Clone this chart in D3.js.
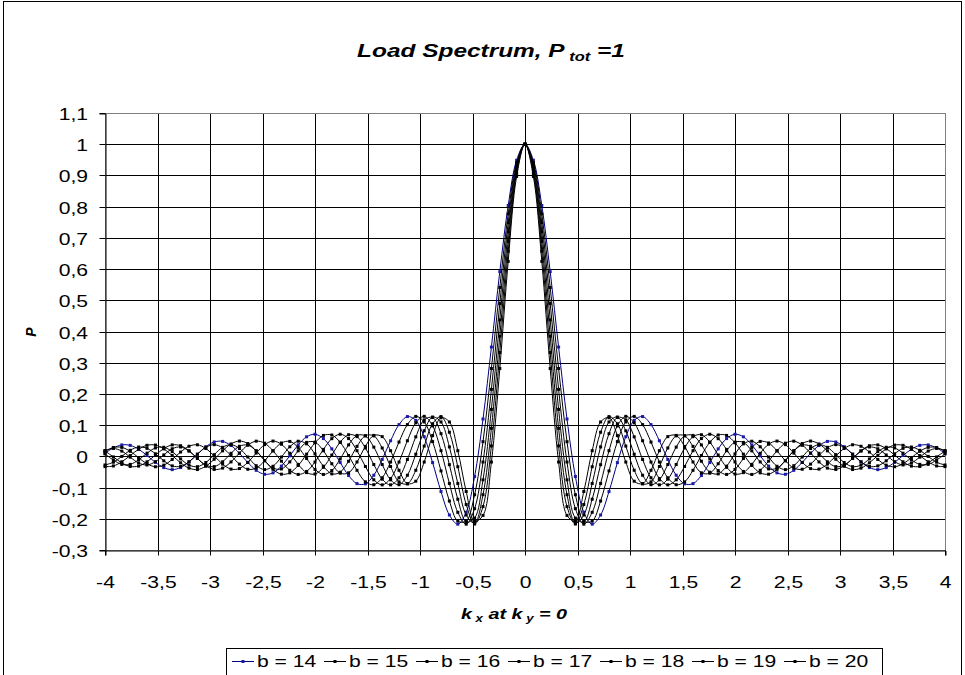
<!DOCTYPE html>
<html>
<head>
<meta charset="utf-8">
<script src="https://cdn.jsdelivr.net/npm/d3@7"></script>
<style>
  html, body { margin: 0; padding: 0; background: #fff; }
  svg { display: block; font-family: "Liberation Sans", Arial, sans-serif; }
</style>
</head>
<body>
<svg id="chart" width="965" height="675"></svg>
<script>
// Wavenumber samples k_x (k_y = 0)
const kValues = [
  -4, -3.92, -3.84, -3.76, -3.68, -3.6, -3.52, -3.44, -3.36, -3.28,
  -3.2, -3.12, -3.04, -2.96, -2.88, -2.8, -2.72, -2.64, -2.56, -2.48,
  -2.4, -2.32, -2.24, -2.16, -2.08, -2, -1.92, -1.84, -1.76, -1.68,
  -1.6, -1.52, -1.44, -1.36, -1.28, -1.2, -1.12, -1.04, -0.96, -0.88,
  -0.8, -0.72, -0.64, -0.56, -0.48, -0.4, -0.32, -0.24, -0.16, -0.08,
  0,
  0.08, 0.16, 0.24, 0.32, 0.4, 0.48, 0.56, 0.64, 0.72, 0.8,
  0.88, 0.96, 1.04, 1.12, 1.2, 1.28, 1.36, 1.44, 1.52, 1.6,
  1.68, 1.76, 1.84, 1.92, 2, 2.08, 2.16, 2.24, 2.32, 2.4,
  2.48, 2.56, 2.64, 2.72, 2.8, 2.88, 2.96, 3.04, 3.12, 3.2,
  3.28, 3.36, 3.44, 3.52, 3.6, 3.68, 3.76, 3.84, 3.92, 4
];

// Load spectrum P for each width b
const p14 = [
  0.0097, 0.027, 0.0366, 0.0352, 0.0228, 0.0027, -0.0192, -0.0361, -0.0425, -0.0359,
  -0.0178, 0.0069, 0.0307, 0.0461, 0.0479, 0.0348, 0.0099, -0.0196, -0.0447, -0.0574,
  -0.0528, -0.0312, 0.0018, 0.0367, 0.0626, 0.0708, 0.057, 0.024, -0.0198, -0.0614,
  -0.0874, -0.0881, -0.0605, -0.01, 0.05, 0.1017, 0.1275, 0.1154, 0.063, -0.02,
  -0.1127, -0.1879, -0.2172, -0.1791, -0.0645, 0.1196, 0.3501, 0.5917, 0.8037, 0.9486,
  1,
  0.9486, 0.8037, 0.5917, 0.3501, 0.1196, -0.0645, -0.1791, -0.2172, -0.1879, -0.1127,
  -0.02, 0.063, 0.1154, 0.1275, 0.1017, 0.05, -0.01, -0.0605, -0.0881, -0.0874,
  -0.0614, -0.0198, 0.024, 0.057, 0.0708, 0.0626, 0.0367, 0.0018, -0.0312, -0.0528,
  -0.0574, -0.0447, -0.0196, 0.0099, 0.0348, 0.0479, 0.0461, 0.0307, 0.0069, -0.0178,
  -0.0359, -0.0425, -0.0361, -0.0192, 0.0027, 0.0228, 0.0352, 0.0366, 0.027, 0.0097
];
const p15 = [
  -0.0329, -0.0307, -0.0174, 0.0026, 0.0226, 0.0354, 0.0362, 0.024, 0.0027, -0.0206,
  -0.0377, -0.0422, -0.0317, -0.0093, 0.0177, 0.0398, 0.049, 0.0411, 0.0179, -0.0133,
  -0.0417, -0.0571, -0.0528, -0.0292, 0.0069, 0.0434, 0.0671, 0.0684, 0.0449, 0.0027,
  -0.0447, -0.0817, -0.0908, -0.0686, -0.0182, 0.0458, 0.1017, 0.128, 0.1102, 0.0472,
  -0.0466, -0.1431, -0.2075, -0.2075, -0.1229, 0.047, 0.2814, 0.541, 0.7767, 0.9411,
  1,
  0.9411, 0.7767, 0.541, 0.2814, 0.047, -0.1229, -0.2075, -0.2075, -0.1431, -0.0466,
  0.0472, 0.1102, 0.128, 0.1017, 0.0458, -0.0182, -0.0686, -0.0908, -0.0817, -0.0447,
  0.0027, 0.0449, 0.0684, 0.0671, 0.0434, 0.0069, -0.0292, -0.0528, -0.0571, -0.0417,
  -0.0133, 0.0179, 0.0411, 0.049, 0.0398, 0.0177, -0.0093, -0.0317, -0.0422, -0.0377,
  -0.0206, 0.0027, 0.024, 0.0362, 0.0354, 0.0226, 0.0026, -0.0174, -0.0307, -0.0329
];
const p16 = [
  0.0172, -0.0018, -0.0209, -0.0323, -0.0312, -0.0174, 0.0041, 0.0249, 0.0366, 0.0341,
  0.0176, -0.0069, -0.0299, -0.0419, -0.0376, -0.0178, 0.0105, 0.0362, 0.0487, 0.0422,
  0.0179, -0.0154, -0.0447, -0.0579, -0.0483, -0.018, 0.0222, 0.0567, 0.0709, 0.057,
  0.0181, -0.0325, -0.0751, -0.0913, -0.0711, -0.0182, 0.05, 0.1074, 0.1282, 0.0975,
  0.0182, -0.0868, -0.1793, -0.2172, -0.1674, -0.0182, 0.2146, 0.4894, 0.7485, 0.9331,
  1,
  0.9331, 0.7485, 0.4894, 0.2146, -0.0182, -0.1674, -0.2172, -0.1793, -0.0868, 0.0182,
  0.0975, 0.1282, 0.1074, 0.05, -0.0182, -0.0711, -0.0913, -0.0751, -0.0325, 0.0181,
  0.057, 0.0709, 0.0567, 0.0222, -0.018, -0.0483, -0.0579, -0.0447, -0.0154, 0.0179,
  0.0422, 0.0487, 0.0362, 0.0105, -0.0178, -0.0376, -0.0419, -0.0299, -0.0069, 0.0176,
  0.0341, 0.0366, 0.0249, 0.0041, -0.0174, -0.0312, -0.0323, -0.0209, -0.0018, 0.0172
];
const p17 = [
  0.0156, 0.0284, 0.0288, 0.0162, -0.0043, -0.0238, -0.0333, -0.0281, -0.0099, 0.0138,
  0.0323, 0.0371, 0.0252, 0.0011, -0.0248, -0.0408, -0.0391, -0.0193, 0.0105, 0.0375,
  0.049, 0.0388, 0.0099, -0.0256, -0.0521, -0.0566, -0.0352, 0.0043, 0.0455, 0.0693,
  0.0632, 0.0268, -0.0262, -0.0731, -0.0913, -0.0686, -0.01, 0.0625, 0.1169, 0.1245,
  0.0727, -0.0266, -0.1373, -0.2099, -0.1977, -0.0752, 0.1505, 0.4372, 0.719, 0.9247,
  1,
  0.9247, 0.719, 0.4372, 0.1505, -0.0752, -0.1977, -0.2099, -0.1373, -0.0266, 0.0727,
  0.1245, 0.1169, 0.0625, -0.01, -0.0686, -0.0913, -0.0731, -0.0262, 0.0268, 0.0632,
  0.0693, 0.0455, 0.0043, -0.0352, -0.0566, -0.0521, -0.0256, 0.0099, 0.0388, 0.049,
  0.0375, 0.0105, -0.0193, -0.0391, -0.0408, -0.0248, 0.0011, 0.0252, 0.0371, 0.0323,
  0.0138, -0.0099, -0.0281, -0.0333, -0.0238, -0.0043, 0.0162, 0.0288, 0.0284, 0.0156
];
const p18 = [
  -0.0276, -0.0187, -0.0001, 0.0194, 0.0299, 0.0257, 0.0082, -0.0142, -0.0305, -0.0321,
  -0.0174, 0.0069, 0.029, 0.0375, 0.0273, 0.0027, -0.0248, -0.0413, -0.0376, -0.0145,
  0.0177, 0.0429, 0.0479, 0.0286, -0.0069, -0.0417, -0.0579, -0.0455, -0.0083, 0.0367,
  0.0671, 0.0656, 0.0296, -0.0262, -0.0751, -0.0908, -0.0605, 0.0069, 0.0818, 0.126,
  0.1102, 0.0302, -0.0868, -0.1879, -0.2139, -0.1229, 0.0898, 0.3849, 0.6885, 0.9158,
  1,
  0.9158, 0.6885, 0.3849, 0.0898, -0.1229, -0.2139, -0.1879, -0.0868, 0.0302, 0.1102,
  0.126, 0.0818, 0.0069, -0.0605, -0.0908, -0.0751, -0.0262, 0.0296, 0.0656, 0.0671,
  0.0367, -0.0083, -0.0455, -0.0579, -0.0417, -0.0069, 0.0286, 0.0479, 0.0429, 0.0177,
  -0.0145, -0.0376, -0.0413, -0.0248, 0.0027, 0.0273, 0.0375, 0.029, 0.0069, -0.0174,
  -0.0321, -0.0305, -0.0142, 0.0082, 0.0257, 0.0299, 0.0194, -0.0001, -0.0187, -0.0276
];
const p19 = [
  0.0078, -0.0119, -0.0257, -0.0257, -0.0112, 0.0102, 0.0269, 0.0292, 0.0151, -0.0081,
  -0.028, -0.033, -0.0197, 0.0055, 0.029, 0.0374, 0.0252, -0.0021, -0.0299, -0.0424,
  -0.0317, -0.0022, 0.0307, 0.0485, 0.04, 0.0079, -0.0314, -0.0561, -0.0507, -0.0156,
  0.032, 0.0661, 0.0656, 0.0268, -0.0325, -0.0817, -0.0881, -0.0445, 0.0329, 0.1046,
  0.1274, 0.0773, -0.0332, -0.1543, -0.2168, -0.161, 0.0334, 0.3328, 0.6571, 0.9065,
  1,
  0.9065, 0.6571, 0.3328, 0.0334, -0.161, -0.2168, -0.1543, -0.0332, 0.0773, 0.1274,
  0.1046, 0.0329, -0.0445, -0.0881, -0.0817, -0.0325, 0.0268, 0.0656, 0.0661, 0.032,
  -0.0156, -0.0507, -0.0561, -0.0314, 0.0079, 0.04, 0.0485, 0.0307, -0.0022, -0.0317,
  -0.0424, -0.0299, -0.0021, 0.0252, 0.0374, 0.029, 0.0055, -0.0197, -0.033, -0.028,
  -0.0081, 0.0151, 0.0292, 0.0269, 0.0102, -0.0112, -0.0257, -0.0257, -0.0119, 0.0078
];
const p20 = [
  0.0186, 0.0254, 0.0168, -0.0026, -0.0213, -0.0276, -0.017, 0.0046, 0.0243, 0.03,
  0.0172, -0.0069, -0.028, -0.0328, -0.0174, 0.0097, 0.0323, 0.0362, 0.0176, -0.0132,
  -0.0377, -0.0403, -0.0178, 0.0177, 0.0447, 0.0456, 0.0179, -0.0236, -0.0539, -0.0528,
  -0.018, 0.032, 0.0671, 0.0632, 0.0181, -0.0447, -0.0874, -0.0796, -0.0182, 0.0665,
  0.1237, 0.1102, 0.0182, -0.1127, -0.2075, -0.1892, -0.0182, 0.2814, 0.6247, 0.8967,
  1,
  0.8967, 0.6247, 0.2814, -0.0182, -0.1892, -0.2075, -0.1127, 0.0182, 0.1102, 0.1237,
  0.0665, -0.0182, -0.0796, -0.0874, -0.0447, 0.0181, 0.0632, 0.0671, 0.032, -0.018,
  -0.0528, -0.0539, -0.0236, 0.0179, 0.0456, 0.0447, 0.0177, -0.0178, -0.0403, -0.0377,
  -0.0132, 0.0176, 0.0362, 0.0323, 0.0097, -0.0174, -0.0328, -0.028, -0.0069, 0.0172,
  0.03, 0.0243, 0.0046, -0.017, -0.0276, -0.0213, -0.0026, 0.0168, 0.0254, 0.0186
];

const seriesNames = ["b = 14", "b = 15", "b = 16", "b = 17", "b = 18", "b = 19", "b = 20"];
const seriesValues = [p14, p15, p16, p17, p18, p19, p20];
const lineColors = ["#000080", "#000000", "#000000", "#000000", "#000000", "#000000", "#000000"];
const markerColors = ["#1a1aa8", "#000000", "#000000", "#000000", "#000000", "#000000", "#000000"];

const xTicks = [-4, -3.5, -3, -2.5, -2, -1.5, -1, -0.5, 0, 0.5, 1, 1.5, 2, 2.5, 3, 3.5, 4];
const yTicks = [-0.3, -0.2, -0.1, 0, 0.1, 0.2, 0.3, 0.4, 0.5, 0.6, 0.7, 0.8, 0.9, 1, 1.1];

const svg = d3.select("#chart");
const plot = { left: 105, right: 945, top: 113, bottom: 550 };
const SX = 1.32; // horizontal widening of all lettering

const x = d3.scaleLinear().domain([-4, 4]).range([plot.left, plot.right]);
const y = d3.scaleLinear().domain([-0.3, 1.1]).range([plot.bottom, plot.top]);
const fmt = v => String(v).replace(".", ",");

// text placed at (px, py) and widened horizontally
function wideText(parent, px, py, anchor) {
  return parent.append("text")
    .attr("transform", `translate(${px},${py}) scale(${SX},1)`)
    .attr("text-anchor", anchor || "start");
}

// outer chart frame
svg.append("rect")
  .attr("x", 3.5).attr("y", 1.5).attr("width", 958).attr("height", 760)
  .attr("fill", "#fff").attr("stroke", "#000").attr("stroke-width", 1);

// title
const title = wideText(svg, 491, 57, "middle")
  .attr("font-size", 18.5).attr("font-weight", "bold").attr("font-style", "italic");
title.append("tspan").text("Load Spectrum, P");
title.append("tspan").attr("font-size", 12.5).attr("dy", 4).text(" tot");
title.append("tspan").attr("dy", -4).text(" =1");

// gridlines
const grid = svg.append("g");
grid.selectAll("line.h").data(yTicks).join("line")
  .attr("x1", plot.left).attr("x2", plot.right)
  .attr("y1", d => Math.round(y(d)) + 0.5).attr("y2", d => Math.round(y(d)) + 0.5)
  .attr("stroke", "#000").attr("stroke-width", 1);
grid.selectAll("line.v").data(xTicks).join("line")
  .attr("y1", plot.top).attr("y2", plot.bottom)
  .attr("x1", d => Math.round(x(d)) + 0.5).attr("x2", d => Math.round(x(d)) + 0.5)
  .attr("stroke", "#000").attr("stroke-width", 1);

// plot area border
svg.append("rect")
  .attr("x", plot.left + 0.5).attr("y", Math.round(y(1.1)) + 0.5)
  .attr("width", plot.right - plot.left).attr("height", Math.round(y(-0.3)) - Math.round(y(1.1)))
  .attr("fill", "none").attr("stroke", "#808080").attr("stroke-width", 1);

// axes: lines and tick marks from d3, labels widened separately
const xAxis = d3.axisBottom(x).tickValues(xTicks).tickFormat("").tickSize(5);
const yAxis = d3.axisLeft(y).tickValues(yTicks).tickFormat("").tickSize(6);

const gx = svg.append("g")
  .attr("transform", `translate(0.5,${Math.round(y(-0.3)) + 0.5})`)
  .call(xAxis);
const gy = svg.append("g")
  .attr("transform", `translate(${plot.left + 0.5},0.5)`)
  .call(yAxis);
[gx, gy].forEach(g => {
  g.select(".domain").attr("stroke", "#000");
  g.selectAll(".tick line").attr("stroke", "#000");
});
gx.selectAll(".tick").attr("transform", d => `translate(${Math.round(x(d))},0)`);
gy.selectAll(".tick").attr("transform", d => `translate(0,${Math.round(y(d))})`);

const labels = svg.append("g").attr("font-size", 16).attr("fill", "#000");
xTicks.forEach(v => {
  wideText(labels, Math.round(x(v)) + 0.5, 588, "middle").text(fmt(v));
});
yTicks.forEach(v => {
  wideText(labels, 88, Math.round(y(v)) + 6.5, "end").text(fmt(v));
});

// axis titles
const xt = wideText(svg, 514, 619, "middle")
  .attr("font-size", 15).attr("font-weight", "bold").attr("font-style", "italic");
xt.append("tspan").text("k");
xt.append("tspan").attr("font-size", 10).attr("dy", 3).text(" x");
xt.append("tspan").attr("dy", -3).text(" at k");
xt.append("tspan").attr("font-size", 10).attr("dy", 3).text(" y");
xt.append("tspan").attr("dy", -3).text(" = 0");

svg.append("text")
  .attr("transform", "translate(36,332) rotate(-90)")
  .attr("text-anchor", "middle")
  .attr("font-size", 14).attr("font-weight", "bold").attr("font-style", "italic")
  .text("P");

// series lines and markers
const line = d3.line()
  .x((d, i) => x(kValues[i]))
  .y(d => y(d))
  .curve(d3.curveCatmullRom.alpha(0.5));

const series = svg.append("g");
seriesValues.forEach((vals, s) => {
  const g = series.append("g");
  g.append("path")
    .attr("d", line(vals))
    .attr("fill", "none")
    .attr("stroke", lineColors[s])
    .attr("stroke-width", 1);
  g.selectAll("rect").data(vals).join("rect")
    .attr("x", (d, i) => x(kValues[i]) - 1.5)
    .attr("y", d => y(d) - 1.5)
    .attr("width", 3).attr("height", 3)
    .attr("fill", markerColors[s]);
});

// legend
const legend = svg.append("g");
legend.append("rect")
  .attr("x", 226.5).attr("y", 648.5).attr("width", 656).attr("height", 60)
  .attr("fill", "#fff").attr("stroke", "#000").attr("stroke-width", 1);
seriesNames.forEach((name, s) => {
  const x0 = 232 + s * 92;
  legend.append("line")
    .attr("x1", x0).attr("x2", x0 + 22).attr("y1", 661.5).attr("y2", 661.5)
    .attr("stroke", lineColors[s]).attr("stroke-width", 1);
  legend.append("rect")
    .attr("x", x0 + 9.5).attr("y", 660).attr("width", 3).attr("height", 3)
    .attr("fill", markerColors[s]);
  wideText(legend, x0 + 25, 667, "start")
    .attr("font-size", 16)
    .text(name);
});
</script>
</body>
</html>
